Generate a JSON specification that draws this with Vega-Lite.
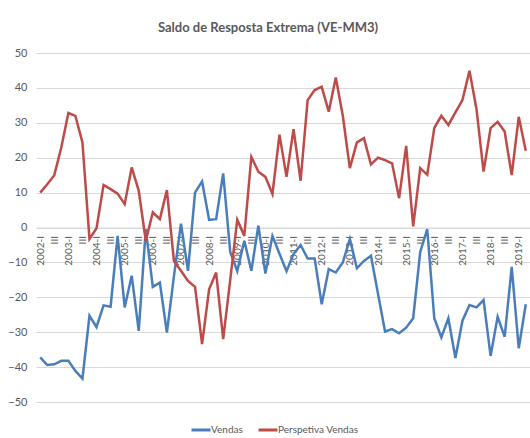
{
  "$schema": "https://vega.github.io/schema/vega-lite/v6.json",
  "width": 494,
  "height": 349,
  "autosize": {"type": "none"},
  "padding": {"left": 36, "top": 53, "right": 0, "bottom": 36},
  "background": "white",
  "title": {"text": "Saldo de Resposta Extrema (VE-MM3)", "font": "Lato", "fontSize": 13, "fontWeight": "bold", "color": "#595959", "anchor": "middle", "offset": 12, "dx": -15},
  "config": {"view": {"stroke": null}, "font": "Lato"},
  "data": {"values": [
    {"q":"2002-I","s":"Vendas","v":-37.2},{"q":"2002-II","s":"Vendas","v":-39.4},{"q":"2002-III","s":"Vendas","v":-39.2},{"q":"2002-IV","s":"Vendas","v":-38.2},
    {"q":"2003-I","s":"Vendas","v":-38.2},{"q":"2003-II","s":"Vendas","v":-41.1},{"q":"2003-III","s":"Vendas","v":-43.3},{"q":"2003-IV","s":"Vendas","v":-25.3},
    {"q":"2004-I","s":"Vendas","v":-28.5},{"q":"2004-II","s":"Vendas","v":-22.3},{"q":"2004-III","s":"Vendas","v":-22.7},{"q":"2004-IV","s":"Vendas","v":-2.4},
    {"q":"2005-I","s":"Vendas","v":-22.9},{"q":"2005-II","s":"Vendas","v":-13.8},{"q":"2005-III","s":"Vendas","v":-29.6},{"q":"2005-IV","s":"Vendas","v":-0.5},
    {"q":"2006-I","s":"Vendas","v":-17},{"q":"2006-II","s":"Vendas","v":-15.8},{"q":"2006-III","s":"Vendas","v":-30.1},{"q":"2006-IV","s":"Vendas","v":-14},
    {"q":"2007-I","s":"Vendas","v":1.1},{"q":"2007-II","s":"Vendas","v":-12.4},{"q":"2007-III","s":"Vendas","v":10},{"q":"2007-IV","s":"Vendas","v":13.2},
    {"q":"2008-I","s":"Vendas","v":2.2},{"q":"2008-II","s":"Vendas","v":2.4},{"q":"2008-III","s":"Vendas","v":15.5},{"q":"2008-IV","s":"Vendas","v":-7},
    {"q":"2009-I","s":"Vendas","v":-12.5},{"q":"2009-II","s":"Vendas","v":-3.8},{"q":"2009-III","s":"Vendas","v":-12.4},{"q":"2009-IV","s":"Vendas","v":0.5},
    {"q":"2010-I","s":"Vendas","v":-13.2},{"q":"2010-II","s":"Vendas","v":-2.4},{"q":"2010-III","s":"Vendas","v":-7.5},{"q":"2010-IV","s":"Vendas","v":-12.5},
    {"q":"2011-I","s":"Vendas","v":-7.6},{"q":"2011-II","s":"Vendas","v":-5},{"q":"2011-III","s":"Vendas","v":-8.9},{"q":"2011-IV","s":"Vendas","v":-8.9},
    {"q":"2012-I","s":"Vendas","v":-22},{"q":"2012-II","s":"Vendas","v":-11.9},{"q":"2012-III","s":"Vendas","v":-12.9},{"q":"2012-IV","s":"Vendas","v":-10},
    {"q":"2013-I","s":"Vendas","v":-3.3},{"q":"2013-II","s":"Vendas","v":-11.7},{"q":"2013-III","s":"Vendas","v":-9.6},{"q":"2013-IV","s":"Vendas","v":-8.1},
    {"q":"2014-I","s":"Vendas","v":-19},{"q":"2014-II","s":"Vendas","v":-29.8},{"q":"2014-III","s":"Vendas","v":-29.1},{"q":"2014-IV","s":"Vendas","v":-30.3},
    {"q":"2015-I","s":"Vendas","v":-28.7},{"q":"2015-II","s":"Vendas","v":-26},{"q":"2015-III","s":"Vendas","v":-7},{"q":"2015-IV","s":"Vendas","v":-0.5},
    {"q":"2016-I","s":"Vendas","v":-26},{"q":"2016-II","s":"Vendas","v":-31.5},{"q":"2016-III","s":"Vendas","v":-26},{"q":"2016-IV","s":"Vendas","v":-37.4},
    {"q":"2017-I","s":"Vendas","v":-26.7},{"q":"2017-II","s":"Vendas","v":-22.2},{"q":"2017-III","s":"Vendas","v":-22.9},{"q":"2017-IV","s":"Vendas","v":-20.8},
    {"q":"2018-I","s":"Vendas","v":-36.8},{"q":"2018-II","s":"Vendas","v":-25.6},{"q":"2018-III","s":"Vendas","v":-31.3},{"q":"2018-IV","s":"Vendas","v":-11.3},
    {"q":"2019-I","s":"Vendas","v":-34.6},{"q":"2019-II","s":"Vendas","v":-22},
    {"q":"2002-I","s":"Perspetiva Vendas","v":10},{"q":"2002-II","s":"Perspetiva Vendas","v":12.4},{"q":"2002-III","s":"Perspetiva Vendas","v":15},{"q":"2002-IV","s":"Perspetiva Vendas","v":23},
    {"q":"2003-I","s":"Perspetiva Vendas","v":32.8},{"q":"2003-II","s":"Perspetiva Vendas","v":32},{"q":"2003-III","s":"Perspetiva Vendas","v":24.4},{"q":"2003-IV","s":"Perspetiva Vendas","v":-3.3},
    {"q":"2004-I","s":"Perspetiva Vendas","v":-0.2},{"q":"2004-II","s":"Perspetiva Vendas","v":12.2},{"q":"2004-III","s":"Perspetiva Vendas","v":11},{"q":"2004-IV","s":"Perspetiva Vendas","v":9.7},
    {"q":"2005-I","s":"Perspetiva Vendas","v":6.7},{"q":"2005-II","s":"Perspetiva Vendas","v":17.2},{"q":"2005-III","s":"Perspetiva Vendas","v":10.5},{"q":"2005-IV","s":"Perspetiva Vendas","v":-3.8},
    {"q":"2006-I","s":"Perspetiva Vendas","v":4.3},{"q":"2006-II","s":"Perspetiva Vendas","v":2.4},{"q":"2006-III","s":"Perspetiva Vendas","v":10.7},{"q":"2006-IV","s":"Perspetiva Vendas","v":-9.6},
    {"q":"2007-I","s":"Perspetiva Vendas","v":-12.4},{"q":"2007-II","s":"Perspetiva Vendas","v":-15.3},{"q":"2007-III","s":"Perspetiva Vendas","v":-17},{"q":"2007-IV","s":"Perspetiva Vendas","v":-33.4},
    {"q":"2008-I","s":"Perspetiva Vendas","v":-17.7},{"q":"2008-II","s":"Perspetiva Vendas","v":-12.9},{"q":"2008-III","s":"Perspetiva Vendas","v":-32},{"q":"2008-IV","s":"Perspetiva Vendas","v":-15},
    {"q":"2009-I","s":"Perspetiva Vendas","v":2.2},{"q":"2009-II","s":"Perspetiva Vendas","v":-2.4},{"q":"2009-III","s":"Perspetiva Vendas","v":20.2},{"q":"2009-IV","s":"Perspetiva Vendas","v":16},
    {"q":"2010-I","s":"Perspetiva Vendas","v":14.5},{"q":"2010-II","s":"Perspetiva Vendas","v":9.6},{"q":"2010-III","s":"Perspetiva Vendas","v":26.6},{"q":"2010-IV","s":"Perspetiva Vendas","v":14.5},
    {"q":"2011-I","s":"Perspetiva Vendas","v":28.2},{"q":"2011-II","s":"Perspetiva Vendas","v":13.4},{"q":"2011-III","s":"Perspetiva Vendas","v":36.5},{"q":"2011-IV","s":"Perspetiva Vendas","v":39.4},
    {"q":"2012-I","s":"Perspetiva Vendas","v":40.3},{"q":"2012-II","s":"Perspetiva Vendas","v":33.2},{"q":"2012-III","s":"Perspetiva Vendas","v":43},{"q":"2012-IV","s":"Perspetiva Vendas","v":32},
    {"q":"2013-I","s":"Perspetiva Vendas","v":17},{"q":"2013-II","s":"Perspetiva Vendas","v":24.4},{"q":"2013-III","s":"Perspetiva Vendas","v":25.6},{"q":"2013-IV","s":"Perspetiva Vendas","v":18.1},
    {"q":"2014-I","s":"Perspetiva Vendas","v":20},{"q":"2014-II","s":"Perspetiva Vendas","v":19.3},{"q":"2014-III","s":"Perspetiva Vendas","v":18.4},{"q":"2014-IV","s":"Perspetiva Vendas","v":8.4},
    {"q":"2015-I","s":"Perspetiva Vendas","v":23.4},{"q":"2015-II","s":"Perspetiva Vendas","v":0.3},{"q":"2015-III","s":"Perspetiva Vendas","v":17},{"q":"2015-IV","s":"Perspetiva Vendas","v":15.1},
    {"q":"2016-I","s":"Perspetiva Vendas","v":28.5},{"q":"2016-II","s":"Perspetiva Vendas","v":32},{"q":"2016-III","s":"Perspetiva Vendas","v":29.4},{"q":"2016-IV","s":"Perspetiva Vendas","v":33},
    {"q":"2017-I","s":"Perspetiva Vendas","v":36.5},{"q":"2017-II","s":"Perspetiva Vendas","v":44.9},{"q":"2017-III","s":"Perspetiva Vendas","v":33.9},{"q":"2017-IV","s":"Perspetiva Vendas","v":16},
    {"q":"2018-I","s":"Perspetiva Vendas","v":28.5},{"q":"2018-II","s":"Perspetiva Vendas","v":30.3},{"q":"2018-III","s":"Perspetiva Vendas","v":27.5},{"q":"2018-IV","s":"Perspetiva Vendas","v":15},
    {"q":"2019-I","s":"Perspetiva Vendas","v":31.7},{"q":"2019-II","s":"Perspetiva Vendas","v":22}
  ]},
  "mark": {"type": "line", "strokeWidth": 2.5},
  "encoding": {
    "x": {
      "field": "q", "type": "ordinal", "sort": null,
      "scale": {"type": "point", "padding": 0.6},
      "axis": {
        "title": null, "offset": -174.5, "labelAngle": -90,
        "labelExpr": "slice(datum.value, -4) == '-III' ? 'III' : (slice(datum.value, -2) == '-I' ? datum.value : '')",
        "ticks": false, "grid": false, "domainColor": "#d9d9d9", "domainWidth": 1,
        "labelFont": "Lato", "labelFontSize": 10, "labelColor": "#595959", "labelPadding": 8, "labelOverlap": false
      }
    },
    "y": {
      "field": "v", "type": "quantitative",
      "scale": {"domain": [-50, 50], "nice": false},
      "axis": {
        "title": null, "values": [-50, -40, -30, -20, -10, 0, 10, 20, 30, 40, 50],
        "domain": false, "ticks": false, "gridColor": "#d9d9d9", "gridWidth": 1,
        "labelFont": "Lato", "labelFontSize": 11, "labelColor": "#595959", "labelPadding": 9
      }
    },
    "color": {
      "field": "s", "type": "nominal",
      "scale": {"domain": ["Vendas", "Perspetiva Vendas"], "range": ["#4A7EBB", "#BE4B48"]},
      "legend": {
        "title": null, "orient": "none", "direction": "horizontal", "legendX": 154, "legendY": 366,
        "symbolType": "stroke", "symbolSize": 361, "symbolStrokeWidth": 3,
        "labelFont": "Lato", "labelFontSize": 10, "labelColor": "#595959", "labelOffset": -1, "columnPadding": 9
      }
    }
  }
}
